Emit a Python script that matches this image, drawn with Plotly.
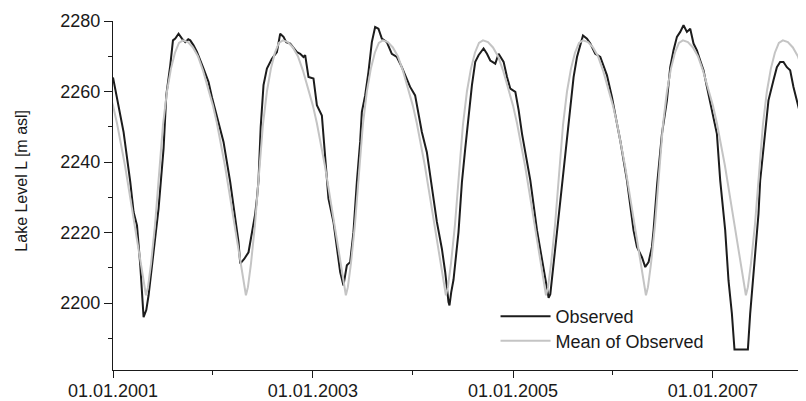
import datetime as dt
import plotly.graph_objects as go

# ---- data ----
# Observed lake level: decimal year -> level [m asl]
obs_year = [
    2001.000, 2001.040, 2001.106, 2001.173, 2001.206, 2001.240, 2001.273, 2001.306, 2001.333, 2001.356,
    2001.406, 2001.456, 2001.506, 2001.533, 2001.573, 2001.600, 2001.623, 2001.656, 2001.690, 2001.723,
    2001.753, 2001.773, 2001.806, 2001.840, 2001.906, 2001.956, 2001.990, 2002.040, 2002.106, 2002.173,
    2002.223, 2002.256, 2002.273, 2002.313, 2002.356, 2002.390, 2002.423, 2002.440, 2002.456, 2002.478,
    2002.493, 2002.506, 2002.540, 2002.590, 2002.640, 2002.673, 2002.706, 2002.733, 2002.773, 2002.840,
    2002.873, 2002.906, 2002.923, 2002.956, 2003.006, 2003.040, 2003.090, 2003.123, 2003.156, 2003.206,
    2003.240, 2003.273, 2003.306, 2003.340, 2003.373, 2003.406, 2003.440, 2003.473, 2003.490, 2003.523,
    2003.556, 2003.590, 2003.623, 2003.656, 2003.690, 2003.740, 2003.790, 2003.840, 2003.890, 2003.940,
    2003.973, 2004.023, 2004.056, 2004.090, 2004.140, 2004.173, 2004.206, 2004.240, 2004.290, 2004.323,
    2004.356, 2004.366, 2004.383, 2004.406, 2004.456, 2004.490, 2004.523, 2004.556, 2004.590, 2004.623,
    2004.656, 2004.706, 2004.740, 2004.773, 2004.823, 2004.856, 2004.906, 2004.940, 2004.973, 2005.023,
    2005.056, 2005.090, 2005.173, 2005.240, 2005.323, 2005.356, 2005.373, 2005.406, 2005.440, 2005.473,
    2005.540, 2005.573, 2005.606, 2005.640, 2005.673, 2005.700, 2005.740, 2005.773, 2005.823, 2005.873,
    2005.940, 2005.990, 2006.040, 2006.073, 2006.140, 2006.173, 2006.206, 2006.240, 2006.290, 2006.323,
    2006.356, 2006.390, 2006.406, 2006.443, 2006.490, 2006.540, 2006.573, 2006.606, 2006.640, 2006.673,
    2006.706, 2006.740, 2006.773, 2006.806, 2006.840, 2006.873, 2006.906, 2006.940, 2006.973, 2007.006,
    2007.040, 2007.073, 2007.123, 2007.156, 2007.190, 2007.216, 2007.350, 2007.373, 2007.400, 2007.423,
    2007.456, 2007.473, 2007.523, 2007.556, 2007.606, 2007.640, 2007.673, 2007.706, 2007.740, 2007.773,
    2007.806, 2007.856, 2007.906, 2007.933, 2007.973,
]
obs_level = [
    2264.0, 2258.0, 2248.5, 2234.3, 2225.8, 2222.0, 2210.7, 2196.0, 2198.0, 2202.2,
    2215.4, 2226.8, 2243.8, 2258.9, 2267.4, 2274.5, 2275.0, 2276.4, 2275.0, 2274.0,
    2274.8, 2274.5, 2273.1, 2271.2, 2266.5, 2262.7, 2258.4, 2253.2, 2245.7, 2234.3,
    2224.9, 2217.3, 2211.2, 2212.5, 2214.4, 2219.7, 2225.3, 2229.6, 2234.8, 2250.0,
    2256.5, 2261.8, 2266.5, 2269.3, 2271.2, 2276.4, 2275.5, 2274.0, 2273.6, 2271.2,
    2270.7, 2269.8, 2270.3, 2264.1, 2263.7, 2256.1, 2253.2, 2241.9, 2229.6, 2223.0,
    2215.4, 2208.8, 2205.0, 2210.7, 2211.6, 2220.1, 2234.3, 2245.7, 2254.2, 2258.9,
    2265.5, 2274.0, 2278.3, 2277.8, 2275.0, 2274.0, 2270.7, 2269.8, 2266.9, 2263.7,
    2261.3, 2258.9, 2254.2, 2248.5, 2242.8, 2236.2, 2228.6, 2223.0, 2215.4, 2208.8,
    2200.3, 2199.3, 2203.0, 2206.6, 2220.1, 2234.3, 2243.8, 2253.2, 2261.8, 2268.4,
    2270.3, 2272.2, 2270.7, 2268.8, 2267.9, 2270.7, 2268.4, 2264.1, 2260.8, 2259.9,
    2254.7, 2248.0, 2234.8, 2220.6, 2207.4, 2201.5, 2202.5, 2211.2, 2220.6, 2230.1,
    2248.0, 2255.6, 2264.1, 2269.8, 2273.6, 2275.9, 2275.0, 2273.6, 2270.7, 2269.8,
    2264.6, 2258.4, 2250.9, 2246.1, 2234.8, 2228.2, 2220.6, 2215.9, 2213.0, 2210.2,
    2211.6, 2215.9, 2220.6, 2234.0, 2248.0, 2257.5, 2266.9, 2271.7, 2275.5, 2276.9,
    2278.8, 2276.9, 2277.8, 2273.6, 2271.7, 2268.8, 2266.0, 2261.3, 2256.6, 2251.8,
    2248.0, 2234.8, 2220.6, 2206.4, 2197.0, 2186.8, 2186.8, 2197.0, 2206.4, 2215.9,
    2225.3, 2234.8, 2248.0, 2257.5, 2263.2, 2266.9, 2268.4, 2268.4, 2266.9, 2266.0,
    2261.3, 2255.6, 2249.9, 2244.0, 2236.0,
]

# Mean of observed: one value per fraction of the year (same every year)
mean_year_fraction = [
    0.000, 0.040, 0.080, 0.120, 0.160, 0.200, 0.240, 0.280, 0.310, 0.330,
    0.350, 0.380, 0.420, 0.460, 0.500, 0.540, 0.580, 0.620, 0.660, 0.700,
    0.750, 0.800, 0.850, 0.900, 0.950,
]
mean_level = [
    2256.0, 2251.0, 2245.5, 2239.0, 2232.0, 2225.0, 2217.5, 2210.0, 2204.5, 2202.2,
    2204.5, 2211.0, 2222.0, 2237.0, 2250.5, 2260.0, 2266.5, 2271.0, 2273.8, 2274.5,
    2274.0, 2272.5, 2270.0, 2266.0, 2261.0,
]
mean_years = [2000, 2001, 2002, 2003, 2004, 2005, 2006, 2007, 2008]

x_range = ["2001-01-01", "2007-12-07"]
y_range = [2181, 2280]


def to_date(d):
    y = int(d)
    start = dt.datetime(y, 1, 1)
    length = (dt.datetime(y + 1, 1, 1) - start).total_seconds()
    return start + dt.timedelta(seconds=(d - y) * length)


obs_x = [to_date(d) for d in obs_year]
mean_x, mean_y = [], []
for yr in mean_years:
    for f, v in zip(mean_year_fraction, mean_level):
        mean_x.append(to_date(yr + f))
        mean_y.append(v)

FONT = "Liberation Sans, Arial, sans-serif"
TXT = "#1a1a1a"

fig = go.Figure()
fig.add_trace(go.Scatter(x=obs_x, y=obs_level, mode="lines", name="Observed",
                         line=dict(color="#1c1c1c", width=2), legend="legend"))
fig.add_trace(go.Scatter(x=mean_x, y=mean_y, mode="lines", name="Mean of Observed",
                         line=dict(color="#c4c4c4", width=2), legend="legend2"))

leg_common = dict(xanchor="left", yanchor="middle", bgcolor="rgba(0,0,0,0)",
                  font=dict(size=18, color=TXT, family=FONT), itemwidth=50,
                  borderwidth=0)

fig.update_layout(
    width=798, height=393,
    margin=dict(l=105, r=0, t=13, b=31, pad=0),
    paper_bgcolor="white", plot_bgcolor="white",
    font=dict(family=FONT, size=18, color=TXT),
    showlegend=True,
    legend=dict(x=0.552, y=0.153, **leg_common),
    legend2=dict(x=0.552, y=0.083, **leg_common),
    xaxis=dict(type="date", range=x_range, showline=True, linecolor="#1a1a1a", linewidth=1.3,
               ticks="outside", ticklen=7, tickwidth=1.3, tickcolor="#1a1a1a",
               tick0="2001-01-01", dtick="M24", tickformat="%d.%m.%Y",
               ticklabelstandoff=-3,
               minor=dict(ticks="outside", ticklen=4, tickwidth=1.3, tickcolor="#1a1a1a",
                          tick0="2001-01-01", dtick="M12", showgrid=False),
               showgrid=False, zeroline=False, automargin=False,
               tickfont=dict(size=18, color=TXT)),
    yaxis=dict(range=y_range, showline=True, linecolor="#1a1a1a", linewidth=1.3,
               ticks="outside", ticklen=8, tickwidth=1.3, tickcolor="#1a1a1a",
               tick0=2200, dtick=20,
               minor=dict(ticks="outside", ticklen=4, tickwidth=1.3, tickcolor="#1a1a1a",
                          dtick=10, showgrid=False),
               showgrid=False, zeroline=False, automargin=False,
               tickfont=dict(size=18, color=TXT)),
    annotations=[dict(text="Lake Level L [m asl]", textangle=-90,
                      xref="paper", yref="paper", x=0, y=0.5425,
                      xanchor="center", yanchor="middle", xshift=-91, showarrow=False,
                      font=dict(size=16, color=TXT, family=FONT))],
)

fig.write_html("out.html")
